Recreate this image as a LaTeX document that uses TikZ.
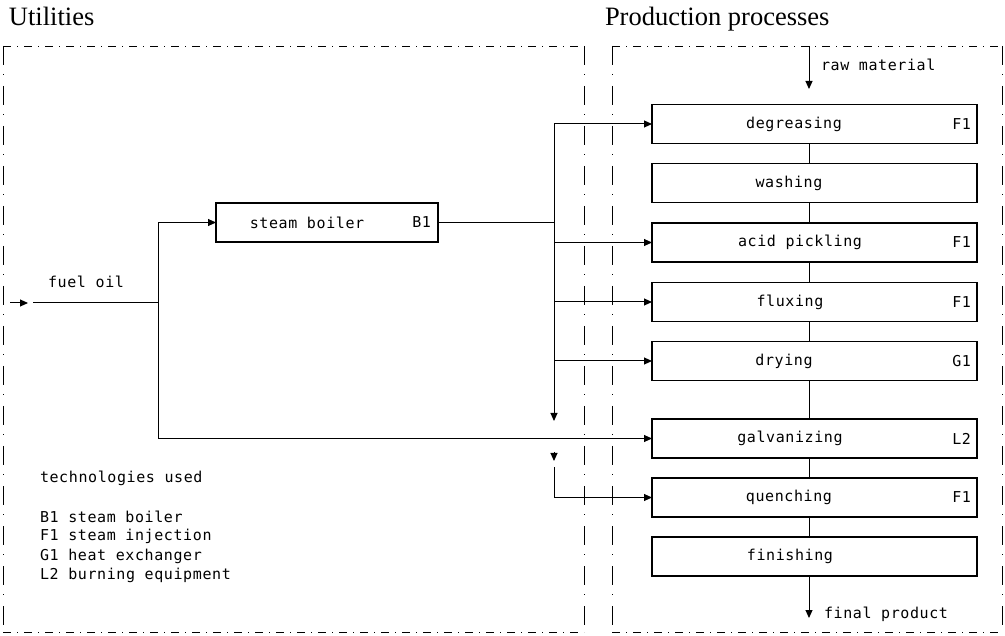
\documentclass[tikz,border=0pt]{standalone}
\usepackage{fontspec}
\usetikzlibrary{arrows.meta}
\newfontfamily\plotfont[LetterSpace=4]{DejaVu Sans Mono}
\newfontfamily\titlefont{Liberation Serif}
\begin{document}
\begin{tikzpicture}[x=1pt,y=-1pt,
  every node/.style={inner sep=0pt,outer sep=0pt},
  txt/.style={font=\plotfont\fontsize{15}{17}\selectfont,anchor=center},
  ttl/.style={font=\titlefont\fontsize{26.5}{30}\selectfont,anchor=base west},
  proc/.style={draw,line width=1.1pt,minimum width=325pt,minimum height=39pt},
  hbord/.style={line width=0.8pt,dash pattern=on 8pt off 6pt on 1pt off 6pt},
  vbord/.style={line width=0.8pt,dash pattern=on 19pt off 9pt on 1pt off 11pt},
  flow/.style={line width=1pt},
  arr/.style={flow,-{Triangle[length=8pt,width=7pt]}}]
\useasboundingbox (0,0) rectangle (1005,636);
% titles
\node[ttl] (tU) at (9,26) {Utilities};
\node[ttl] (tP) at (605,26) {Production processes};
% border corners
\coordinate (L1) at (3,46); \coordinate (L2) at (584,46);
\coordinate (L3) at (584,632); \coordinate (L4) at (3,632);
\coordinate (R1) at (612,46); \coordinate (R2) at (1002,46);
\coordinate (R3) at (1002,632); \coordinate (R4) at (612,632);
\draw[hbord] (L1) -- (L2); \draw[hbord] (L4) -- (L3);
\draw[vbord] (L1) -- (L4); \draw[vbord] (L2) -- (L3);
\draw[hbord] (R1) -- (R2); \draw[hbord] (R4) -- (R3);
\draw[vbord] (R1) -- (R4); \draw[vbord] (R2) -- (R3);
% process boxes
\node[proc] (deg) at (814.5,124) {};
\node[proc] (was) at (814.5,183) {};
\node[proc] (aci) at (814.5,242.5) {};
\node[proc] (flu) at (814.5,302) {};
\node[proc] (dry) at (814.5,361) {};
\node[proc] (gal) at (814.5,438.5) {};
\node[proc] (que) at (814.5,497.5) {};
\node[proc] (fin) at (814.5,556.5) {};
\node[txt] (degT) at (794,124) {degreasing};
\node[txt] (wasT) at (789,183) {washing};
\node[txt] (aciT) at (800,242.5) {acid pickling};
\node[txt] (fluT) at (790,302) {fluxing};
\node[txt] (dryT) at (784,361) {drying};
\node[txt] (galT) at (790,438.5) {galvanizing};
\node[txt] (queT) at (789,497.5) {quenching};
\node[txt] (finT) at (790,556.5) {finishing};
\node[txt,anchor=east] (degC) at ([xshift=-6pt]deg.east) {F1};
\node[txt,anchor=east] (aciC) at ([xshift=-6pt]aci.east) {F1};
\node[txt,anchor=east] (fluC) at ([xshift=-6pt]flu.east) {F1};
\node[txt,anchor=east] (dryC) at ([xshift=-6pt]dry.east) {G1};
\node[txt,anchor=east] (galC) at ([xshift=-6pt]gal.east) {L2};
\node[txt,anchor=east] (queC) at ([xshift=-6pt]que.east) {F1};
% vertical process line
\coordinate (rawS) at (809,46); \coordinate (rawE) at (809,89);
\draw[arr] (rawS) -- (rawE);
\node[txt,anchor=west] (rawL) at (821,65) {raw material};
\foreach \a/\b in {deg/was,was/aci,aci/flu,flu/dry,dry/gal,gal/que,que/fin}
  \draw[flow] (\a.south -| rawS) -- (\b.north -| rawS);
\coordinate (finE) at (809,618);
\draw[arr] (fin.south -| rawS) -- (finE);
\node[txt,anchor=west] (finL) at (824,614) {final product};
% steam boiler
\node[proc,minimum width=222pt] (boil) at (327,222.5) {};
\node[txt] (boilT) at (307,222.5) {steam boiler};
\node[txt,anchor=east] (boilC) at ([xshift=-7pt]boil.east) {B1};
% fuel oil
\coordinate (fA) at (10,303); \coordinate (fB) at (28,303);
\coordinate (fC) at (33,303); \coordinate (fJ) at (158,303);
\draw[arr] (fA) -- (fB);
\draw[flow] (fC) -- (fJ);
\node[txt] (fuelL) at (86,282) {fuel oil};
\draw[arr] (fJ) |- (boil.west);
\draw[arr] (fJ) |- (gal.west);
% steam distribution
\coordinate (sT) at (554,124);
\coordinate (sA) at (554,421);
\coordinate (sB) at (554,452); \coordinate (sC) at (554,461);
\coordinate (sD) at (554,467);
\draw[flow] (boil.east) -- (boil.east -| sT);
\draw[arr] (sT) -- (sA);
\draw[arr] (sB) -- (sC);
\draw[arr] (sD) |- (que.west);
\draw[arr] (sT) -- (deg.west);
\draw[arr] (aci.west -| sT) -- (aci.west);
\draw[arr] (flu.west -| sT) -- (flu.west);
\draw[arr] (dry.west -| sT) -- (dry.west);
% legend
\node[txt,anchor=west] (lg0) at (40,478) {technologies used};
\node[txt,anchor=west] (lg1) at (40,517) {B1 steam boiler};
\node[txt,anchor=west] (lg2) at (40,536.5) {F1 steam injection};
\node[txt,anchor=west] (lg3) at (40,556) {G1 heat exchanger};
\node[txt,anchor=west] (lg4) at (40,575.5) {L2 burning equipment};
\end{tikzpicture}
\end{document}
